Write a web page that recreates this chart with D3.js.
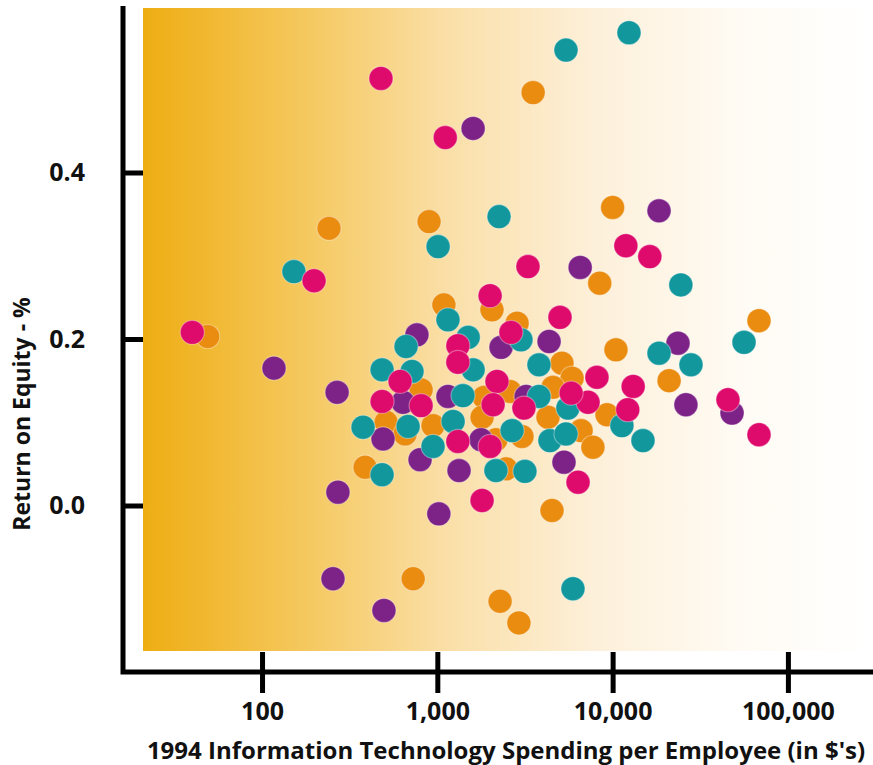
<!DOCTYPE html>
<html>
<head>
<meta charset="utf-8">
<script src="https://cdn.jsdelivr.net/npm/d3@7"></script>
<style>
  body { margin: 0; background: #fff; }
  text { font-family: "Open Sans", "DejaVu Sans", sans-serif; font-weight: 700; fill: #111; }
</style>
</head>
<body>
<div id="chart"></div>
<script>
// Chart size
const width = 873;
const height = 765;

// Series (no legend in the original, named by colour) - [IT spending per employee, return on equity]
const seriesNames = ["orange", "purple", "teal", "magenta"];

const orangePoints = [
  [3520, 0.496], [241, 0.333], [897, 0.341], [10000, 0.358], [8440, 0.267],
  [68400, 0.222], [1090, 0.241], [2050, 0.235], [2850, 0.219], [10450, 0.187],
  [5140, 0.171], [5870, 0.153], [21000, 0.150], [49, 0.203], [808, 0.139],
  [1850, 0.130], [2600, 0.137], [4570, 0.142], [9290, 0.109], [510, 0.100],
  [655, 0.086], [945, 0.096], [1800, 0.106], [2160, 0.079], [3040, 0.083],
  [4280, 0.106], [6610, 0.090], [7720, 0.070], [387, 0.046], [2470, 0.044],
  [4510, -0.006], [728, -0.088], [2280, -0.115], [2920, -0.141]
];

const purplePoints = [
  [1600, 0.453], [18400, 0.354], [6530, 0.286], [23600, 0.195], [26200, 0.121],
  [48000, 0.111], [117, 0.165], [765, 0.205], [2310, 0.190], [4340, 0.197],
  [268, 0.136], [637, 0.124], [1150, 0.131], [3210, 0.131], [490, 0.080],
  [797, 0.055], [1775, 0.079], [1330, 0.042], [5280, 0.052], [271, 0.016],
  [1020, -0.010], [254, -0.088], [496, -0.126]
];

const tealPoints = [
  [12400, 0.568], [5420, 0.547], [2250, 0.347], [1010, 0.311], [152, 0.281],
  [24500, 0.265], [1150, 0.223], [1500, 0.202], [3000, 0.199], [663, 0.191],
  [18400, 0.183], [56200, 0.196], [28000, 0.169], [3800, 0.169], [1600, 0.163],
  [484, 0.163], [717, 0.161], [1400, 0.132], [3800, 0.131], [5560, 0.117],
  [11300, 0.096], [14900, 0.078], [377, 0.094], [1230, 0.101], [945, 0.071],
  [2670, 0.090], [4390, 0.078], [5420, 0.086], [484, 0.037], [2160, 0.042],
  [3160, 0.041], [5940, -0.100], [681, 0.095]
];

const magentaPoints = [
  [477, 0.513], [1110, 0.442], [11900, 0.312], [16300, 0.299], [198, 0.270],
  [40, 0.208], [3290, 0.287], [2000, 0.252], [5010, 0.226], [1310, 0.192],
  [1310, 0.172], [2630, 0.208], [8140, 0.154], [13100, 0.143], [12200, 0.115],
  [7240, 0.124], [5800, 0.135], [2190, 0.149], [484, 0.125], [808, 0.120],
  [3120, 0.117], [45500, 0.127], [68400, 0.085], [1310, 0.077], [2000, 0.071],
  [6350, 0.028], [1800, 0.006], [2080, 0.121], [613, 0.149]
];

// Tick values and labels
const xTicks = [100, 1000, 10000, 100000];
const yTicks = [0.0, 0.2, 0.4];
const xTitle = "1994 Information Technology Spending per Employee (in $'s)";
const yTitle = "Return on Equity - %";

const seriesData = {
  orange: orangePoints,
  purple: purplePoints,
  teal: tealPoints,
  magenta: magentaPoints
};

const colors = {
  orange: "#EA8C10",
  purple: "#7D2287",
  teal: "#12979C",
  magenta: "#DE0A6C"
};

// Axis frame
const axisLeftX = 123;
const axisBottomY = 672;
const axisTopY = 6;
const bgInset = 20;

const svg = d3
  .select("#chart")
  .append("svg")
  .attr("width", width)
  .attr("height", height);

// Scales
const xScale = d3.scaleLog().domain([16.1, 305800]).range([axisLeftX, width]);
const yScale = d3.scaleLinear().domain([-0.2, 0.6]).range([axisBottomY, axisTopY]);

// Background gradient, orange on the left fading to white
const grad = svg
  .append("defs")
  .append("linearGradient")
  .attr("id", "bg")
  .attr("x1", "0%")
  .attr("x2", "100%")
  .attr("y1", "0%")
  .attr("y2", "0%");

[
  ["0%", "#EEAD12"],
  ["22%", "#F5C85E"],
  ["42%", "#FADFA8"],
  ["62%", "#FDF0DA"],
  ["82%", "#FFFBF4"],
  ["100%", "#FFFFFF"]
].forEach(([o, c]) => grad.append("stop").attr("offset", o).attr("stop-color", c));

svg
  .append("rect")
  .attr("x", axisLeftX + bgInset)
  .attr("y", axisTopY + 2)
  .attr("width", width - axisLeftX - bgInset)
  .attr("height", axisBottomY - bgInset - axisTopY - 3)
  .attr("fill", "url(#bg)");

// Dots
seriesNames.forEach((name) => {
  svg
    .append("g")
    .selectAll("circle")
    .data(seriesData[name])
    .join("circle")
    .attr("cx", (d) => xScale(d[0]))
    .attr("cy", (d) => yScale(d[1]))
    .attr("r", 12)
    .attr("fill", colors[name])
    .attr("stroke", "#fff")
    .attr("stroke-opacity", 0.35)
    .attr("stroke-width", 1.2);
});

// Y axis
const yAxis = svg
  .append("g")
  .attr("transform", `translate(${axisLeftX},0)`)
  .call(
    d3.axisLeft(yScale)
      .tickValues(yTicks)
      .tickFormat(d3.format(".1f"))
      .tickSize(23)
      .tickPadding(15)
  );
yAxis.select(".domain").remove();
yAxis.selectAll(".tick line").attr("x2", 20).attr("stroke", "#000").attr("stroke-width", 5);
yAxis.selectAll(".tick text").attr("font-size", 25).attr("font-family", null).attr("fill", "#111");

// X axis
const xAxis = svg
  .append("g")
  .attr("transform", `translate(0,${axisBottomY})`)
  .call(
    d3.axisBottom(xScale)
      .tickValues(xTicks)
      .tickFormat(d3.format(","))
      .tickSize(21)
      .tickPadding(9)
  );
xAxis.select(".domain").remove();
xAxis.selectAll(".tick line").attr("y1", -20).attr("stroke", "#000").attr("stroke-width", 5);
xAxis.selectAll(".tick text").attr("font-size", 25).attr("font-family", null).attr("fill", "#111");

// Axis lines
svg
  .append("path")
  .attr("d", `M${axisLeftX},${axisTopY}V${axisBottomY}H${width}`)
  .attr("fill", "none")
  .attr("stroke", "#000")
  .attr("stroke-width", 5);

// Axis titles
svg
  .append("text")
  .attr("x", 506)
  .attr("y", 759)
  .attr("text-anchor", "middle")
  .attr("font-size", 24)
  .text(xTitle);

svg
  .append("text")
  .attr("transform", "translate(30,414) rotate(-90)")
  .attr("text-anchor", "middle")
  .attr("font-size", 23)
  .text(yTitle);
</script>
</body>
</html>
